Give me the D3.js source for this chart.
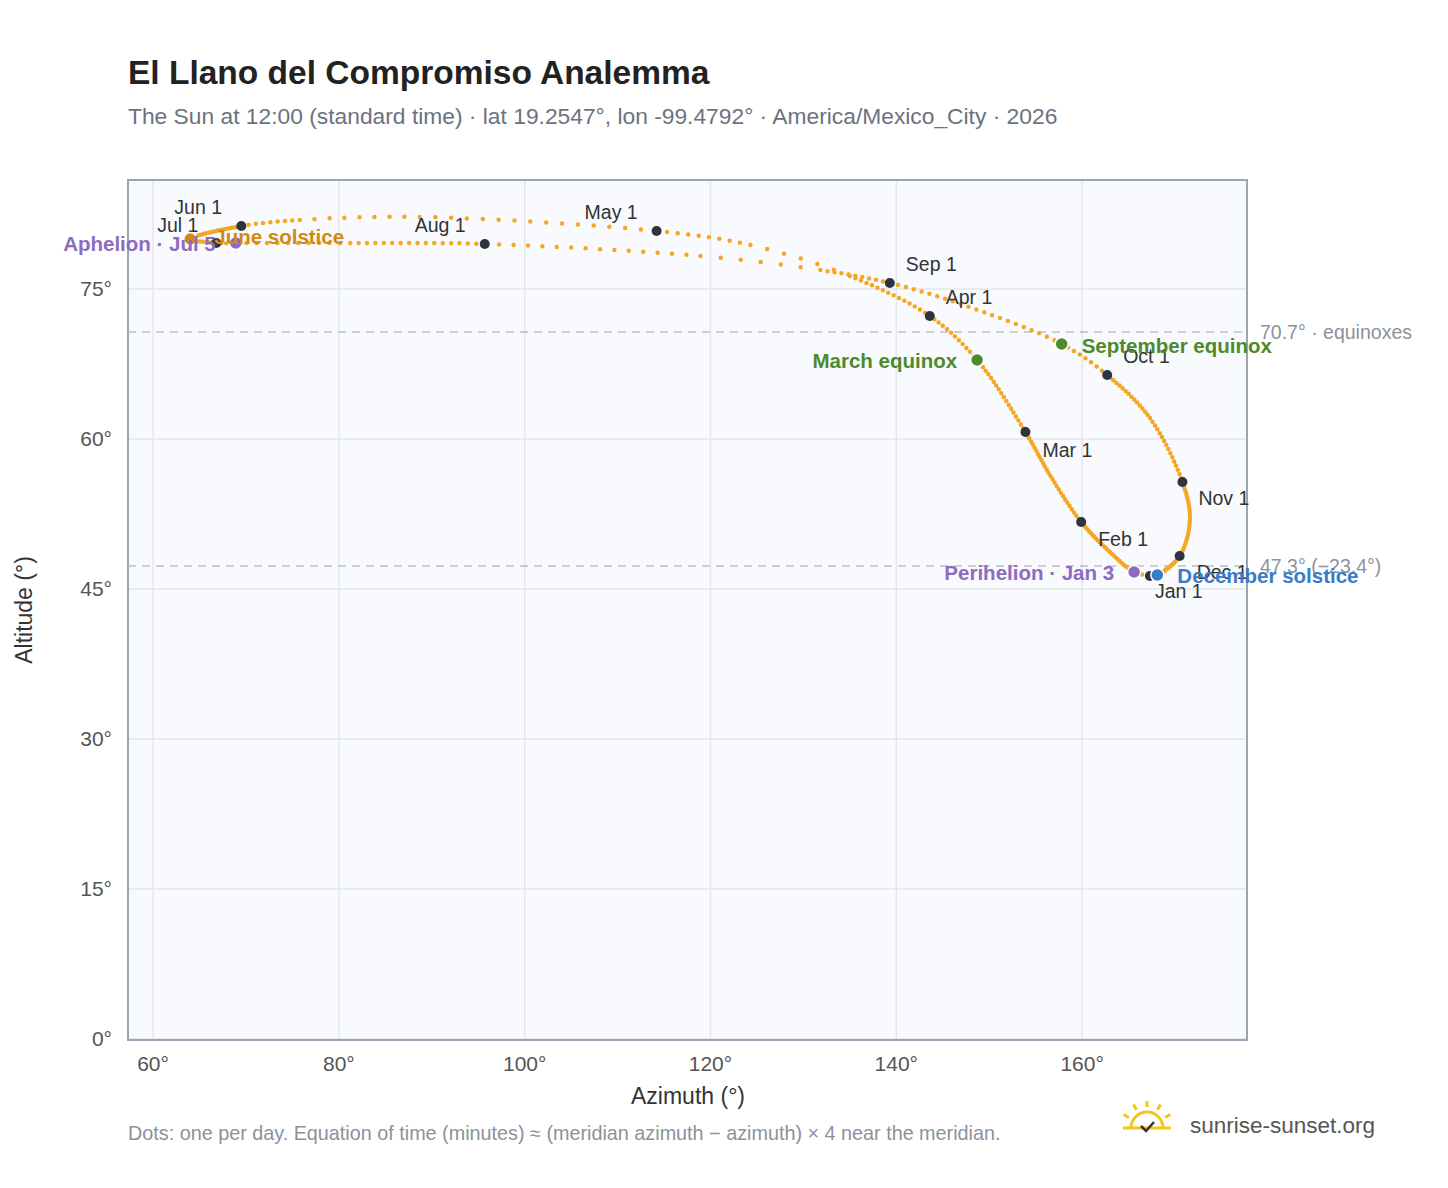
<!DOCTYPE html>
<html><head><meta charset="utf-8">
<script src="https://cdn.jsdelivr.net/npm/d3@7"></script>
<style>body{margin:0;background:#fff;font-family:"Liberation Sans",Arial,sans-serif}</style>
</head><body><svg id="c" width="1448" height="1188"></svg>
<script>
// Sun path readings (day-of-year, azimuth, altitude)
const days = [0,2,14,31,45,59,78,90,105,111,120,135,143,151,171,181,185,196,212,227,233,243,252,265,273,288,304,318,334,354,365];
const azimuth = [167.3,165.6,163.0,159.9,156.6,153.9,148.7,143.6,135.0,124.3,114.2,88.7,75.8,69.5,64.0,66.8,68.9,81.2,95.7,118.9,131.8,139.3,146.9,157.8,162.7,167.3,170.8,171.6,170.5,168.1,167.3];
const altitude = [46.3,46.7,48.7,51.7,56.3,60.7,67.9,72.3,76.3,79.4,80.8,82.2,81.9,81.3,80.0,79.6,79.6,79.6,79.5,78.3,76.9,75.6,73.5,69.5,66.4,62.1,55.7,51.9,48.3,46.4,46.3];
const monthLabels = ["Jan 1","Feb 1","Mar 1","Apr 1","May 1","Jun 1","Jul 1","Aug 1","Sep 1","Oct 1","Nov 1","Dec 1"];
const monthAz = [167.3,159.9,153.9,143.6,114.2,69.5,66.8,95.7,139.3,162.7,170.8,170.5];
const monthAlt = [46.3,51.7,60.7,72.3,80.8,81.3,79.6,79.5,75.6,66.4,55.7,48.3];
const events = ["March equinox","June solstice","September equinox","December solstice","Perihelion · Jan 3","Aphelion · Jul 5"];
const eventAz = [148.7,64.0,157.8,168.1,165.6,68.9];
const eventAlt = [67.9,80.0,69.5,46.4,46.7,79.6];
const refLines = [70.7,47.3];
const refLabels = ["70.7° · equinoxes","47.3° (−23.4°)"];
const xTicks = [60,80,100,120,140,160];
const yTicks = [0,15,30,45,60,75];

const svg = d3.select("#c");
const L=128,R=1247,T=180,B=1040;
const x = d3.scaleLinear().domain([57.3,177.75]).range([L,R]);
const y = d3.scaleLinear().domain([0,85.9]).range([B-1,T]);

svg.append("text").attr("x",128).attr("y",84).attr("font-size",33.5).attr("font-weight","bold").attr("fill","#222").text("El Llano del Compromiso Analemma");
svg.append("text").attr("x",128).attr("y",124).attr("font-size",22.8).attr("fill","#6b7280").text("The Sun at 12:00 (standard time) · lat 19.2547°, lon -99.4792° · America/Mexico_City · 2026");

svg.append("rect").attr("x",L).attr("y",T).attr("width",R-L).attr("height",B-T).attr("fill","#f8fafd");
const g = svg.append("g");
xTicks.forEach(t=>g.append("line").attr("x1",x(t)).attr("x2",x(t)).attr("y1",T).attr("y2",B).attr("stroke","#e3e7ed").attr("stroke-width",1.5));
yTicks.forEach(t=>g.append("line").attr("x1",L).attr("x2",R).attr("y1",y(t)).attr("y2",y(t)).attr("stroke","#e3e7ed").attr("stroke-width",1.5));
svg.append("rect").attr("x",L).attr("y",T).attr("width",R-L).attr("height",B-T).attr("fill","none").attr("stroke","#9aa5b4").attr("stroke-width",2);

xTicks.forEach(t=>svg.append("text").attr("x",x(t)).attr("y",1071).attr("text-anchor","middle").attr("font-size",21).attr("fill","#555").text(t+"°"));
yTicks.forEach(t=>svg.append("text").attr("x",112).attr("y",y(t)+7).attr("text-anchor","end").attr("font-size",21).attr("fill","#555").text(t+"°"));
svg.append("text").attr("x",688).attr("y",1104).attr("text-anchor","middle").attr("font-size",23).attr("fill","#333").text("Azimuth (°)");
svg.append("text").attr("transform","translate(32,610) rotate(-90)").attr("text-anchor","middle").attr("font-size",23).attr("fill","#333").text("Altitude (°)");

refLines.forEach((v,i)=>{
  svg.append("line").attr("x1",L).attr("x2",R).attr("y1",y(v)).attr("y2",y(v)).attr("stroke","#b8bfc9").attr("stroke-width",1.5).attr("stroke-dasharray","8,6");
  svg.append("text").attr("x",1260).attr("y",y(v)+7).attr("font-size",19.5).attr("fill","#8a929d").text(refLabels[i]);
});

// path with one dot per day
const pts = days.map((d,i)=>[x(azimuth[i]),y(altitude[i])]);
const line = d3.line().curve(d3.curveCatmullRom.alpha(0.5));
const path = svg.append("path").attr("d",line(pts)).attr("fill","none").attr("stroke","#f5a623").attr("stroke-width",4.5).attr("stroke-linecap","round");
const tmp = svg.append("path").attr("visibility","hidden");
const cum=[0];
for(let i=1;i<pts.length;i++){ tmp.attr("d",line(pts.slice(0,i+1))); cum.push(tmp.node().getTotalLength()); }
tmp.remove();
const total = path.node().getTotalLength();
const scaleF = total/cum[cum.length-1];
let dash=[];
for(let i=1;i<pts.length;i++){
  const n=days[i]-days[i-1]; const s=(cum[i]-cum[i-1])*scaleF/n;
  for(let k=0;k<n;k++){ dash.push(0, s); }
}
path.attr("stroke-dasharray",dash.join(","));

// month markers
const offs = [[5,22],[17,24],[17,25],[16,-12],[-72,-12],[-67,-12],[-59,-11],[-70,-12],[16,-12],[16,-12],[16,23],[17,23]];
monthLabels.forEach((m,i)=>{
  svg.append("circle").attr("cx",x(monthAz[i])).attr("cy",y(monthAlt[i])).attr("r",5).attr("fill","#2d3340");
});
monthLabels.forEach((m,i)=>{
  svg.append("text").attr("x",x(monthAz[i])+offs[i][0]).attr("y",y(monthAlt[i])+offs[i][1]).attr("font-size",19.5).attr("fill","#333").text(m);
});
const evColors = ["#4e8a2c","#d08a12","#4e8a2c","#3a7bc8","#8e6bbf","#8e6bbf"];
const evOff = [[-20,8,"end"],[24,5,"start"],[20,9,"start"],[20,8,"start"],[-20,8,"end"],[-20,8,"end"]];
events.forEach((e,i)=>{
  svg.append("circle").attr("cx",x(eventAz[i])).attr("cy",y(eventAlt[i])).attr("r",6.5).attr("fill",evColors[i]).attr("stroke","#fff").attr("stroke-width",1.5);
});
events.forEach((e,i)=>{
  svg.append("text").attr("x",x(eventAz[i])+evOff[i][0]).attr("y",y(eventAlt[i])+evOff[i][1]).attr("text-anchor",evOff[i][2]).attr("font-size",20.5).attr("font-weight","bold").attr("fill",evColors[i]).text(e);
});

svg.append("text").attr("x",128).attr("y",1140).attr("font-size",19.8).attr("fill","#8a929d").text("Dots: one per day. Equation of time (minutes) ≈ (meridian azimuth − azimuth) × 4 near the meridian.");
// logo
const lg = svg.append("g").attr("transform","translate(1147,1128)");
lg.append("path").attr("d","M-16,0 A16,16 0 0 1 16,0").attr("fill","none").attr("stroke","#f5c518").attr("stroke-width",3);
[-150,-120,-90,-60,-30].forEach(a=>{const r=a*Math.PI/180;lg.append("line").attr("x1",21*Math.cos(r)).attr("y1",21*Math.sin(r)).attr("x2",27*Math.cos(r)).attr("y2",27*Math.sin(r)).attr("stroke","#f5c518").attr("stroke-width",3);});
lg.append("line").attr("x1",-24).attr("x2",24).attr("y1",0).attr("y2",0).attr("stroke","#f5c518").attr("stroke-width",3);
lg.append("path").attr("d","M-6,-2 L-1,3 L7,-6").attr("fill","none").attr("stroke","#333").attr("stroke-width",2.5);
svg.append("text").attr("x",1190).attr("y",1133).attr("font-size",22.5).attr("fill","#555").text("sunrise-sunset.org");
</script></body></html>
